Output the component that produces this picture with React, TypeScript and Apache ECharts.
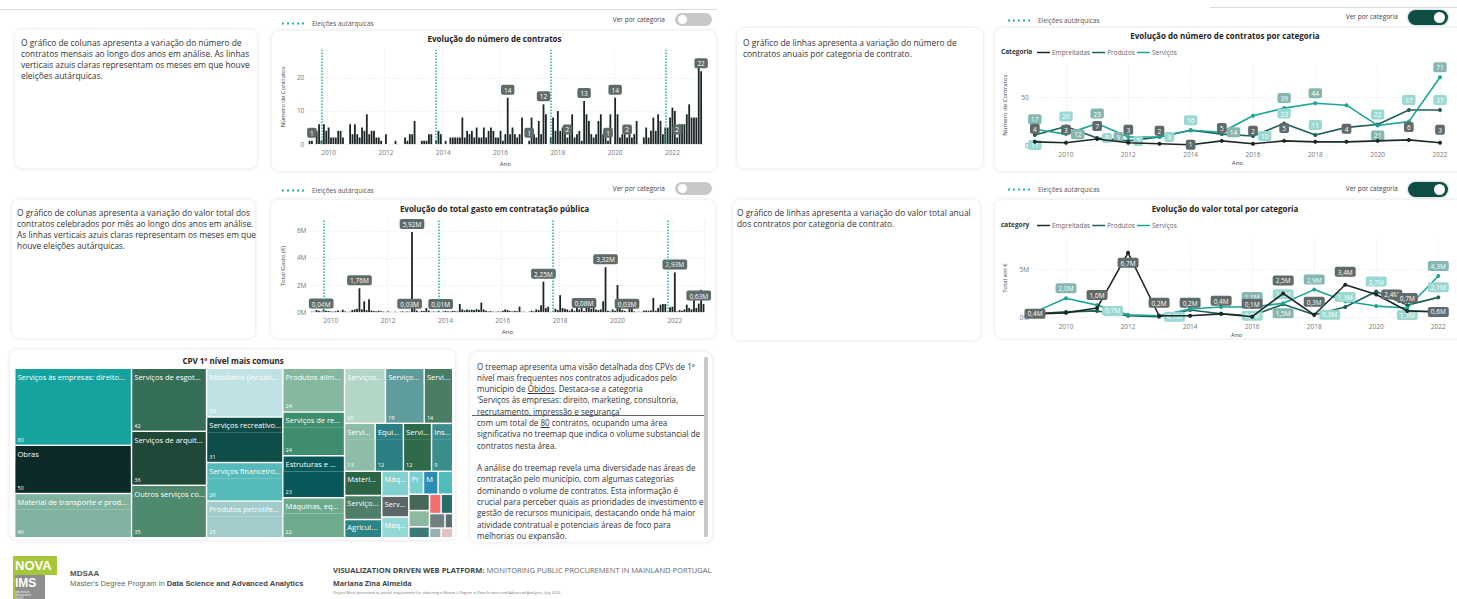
import React, { useEffect, useRef } from 'react';
import * as echarts from 'echarts';

const FONT = '"Open Sans", "Noto Sans", sans-serif';

// ---------------- DATA ----------------
// months shown on the monthly charts: 2009-05 .. 2023-01
const monthCategories: string[] = [];
for (let y = 2009; y <= 2023; y++) {
  for (let m = 1; m <= 12; m++) {
    if ((y === 2009 && m < 5) || (y === 2023 && m > 1)) continue;
    monthCategories.push(`${y}-${m < 10 ? '0' + m : m}`);
  }
}

// number of contracts per month
const monthlyContracts = [
  1, 1, 0, 4, 6, 1, 6, 4, // 2009 May-Dec
  5, 2, 2, 2, 4, 4, 2, 0, 0, 6, 3, 6, // 2010
  3, 2, 5, 4, 9, 3, 4, 4, 2, 2, 1, 0, // 2011
  3, 0, 0, 0, 1, 0, 0, 0, 2, 1, 3, 3, // 2012
  7, 0, 0, 1, 1, 1, 3, 3, 0, 1, 4, 3, // 2013
  0, 1, 0, 2, 2, 2, 2, 2, 8, 2, 4, 3, // 2014
  4, 2, 5, 2, 2, 5, 2, 4, 5, 4, 2, 2, // 2015
  4, 1, 3, 14, 3, 5, 3, 2, 3, 8, 0, 0, // 2016
  1, 8, 3, 2, 7, 3, 12, 9, 0, 2, 8, 4, // 2017
  10, 4, 5, 4, 2, 3, 9, 2, 3, 4, 1, 13, // 2018
  9, 7, 3, 2, 3, 7, 9, 3, 2, 1, 9, 0, // 2019
  14, 9, 2, 3, 5, 2, 3, 2, 3, 7, 0, 0, // 2020
  2, 5, 2, 4, 8, 4, 9, 7, 3, 5, 5, 8, // 2021
  11, 10, 2, 6, 6, 6, 9, 12, 8, 8, 8, 24, // 2022
  22, // 2023 Jan
];
const contractLabelMonths = ['2009-06', '2016-04', '2017-01', '2017-07', '2018-05', '2018-12', '2019-10', '2020-01', '2020-06', '2022-03', '2023-01'];

// total spent per month (M€)
const monthlySpendM = [
  0.03, 0.02, 0.15, 0.1, 0.04, 0.2, 0.1, 0.08, // 2009 May-Dec
  0.05, 0.03, 0.06, 0.12, 0.03, 0.18, 0.05, 0.02, 0.03, 0.15, 0.2, 0.25, // 2010
  1.76, 0.2, 0.8, 0.15, 0.95, 0.12, 0.08, 0.05, 0.1, 0.06, 0.04, 0.02, // 2011
  0.05, 0.02, 0.01, 0.03, 0.01, 0.02, 0.05, 0.02, 0.04, 0.03, 5.92, 0.35, // 2012
  0.12, 0.02, 0.1, 0.08, 0.3, 0.12, 0.02, 0.04, 0.03, 0.06, 0.01, 0.05, // 2013
  0.08, 0.05, 0.04, 0.1, 0.06, 0.05, 0.6, 0.2, 0.12, 0.2, 0.15, 0.18, // 2014
  0.15, 0.22, 0.18, 0.7, 0.2, 0.1, 0.05, 0.06, 0.03, 0.02, 0.04, 0.03, // 2015
  0.1, 0.2, 0.15, 0.08, 0.05, 0.1, 0.06, 0.4, 0.02, 0.03, 0.01, 0.02, // 2016
  0.1, 0.05, 0.2, 0.15, 0.5, 2.25, 0.3, 0.4, 0.02, 0.03, 0.25, 0.15, // 2017
  1.25, 0.3, 0.25, 0.2, 0.1, 0.25, 0.1, 0.3, 0.2, 0.9, 0.08, 0.6, // 2018
  0.3, 0.25, 0.3, 0.2, 0.15, 0.2, 0.8, 3.32, 0.1, 0.05, 0.2, 0.1, // 2019
  2.0, 0.3, 0.15, 0.1, 0.03, 0.6, 0.7, 0.05, 0.02, 0.03, 0.02, 0.1, // 2020
  0.12, 0.1, 0.12, 1.05, 0.1, 0.3, 0.55, 0.6, 0.6, 0.05, 0.35, 0.4, // 2021
  2.93, 0.05, 0.15, 0.1, 0.2, 0.55, 0.3, 0.2, 1.2, 0.3, 0.63, 1.65, // 2022
  0.6, // 2023 Jan
];
const spendLabelMonths = ['2009-09', '2011-01', '2012-10', '2012-11', '2013-11', '2017-06', '2018-11', '2019-08', '2020-05', '2022-01', '2022-11'];

const electionMonths = ['2009-10', '2013-10', '2017-10', '2021-10'];

// yearly by category
const years = ['2009', '2010', '2011', '2012', '2013', '2014', '2015', '2016', '2017', '2018', '2019', '2020', '2021', '2022'];
const categoryNames = ['Empreitadas', 'Produtos', 'Serviços'];
const countEmpreitadas = [4, 3, 7, 3, 2, 1, 5, 2, 5, 4, 4, 5, 6, 3];
const countProdutos = [11, 20, 8, 5, 9, 16, 12, 10, 23, 11, 19, 22, 37, 37];
const countServicos = [17, 12, 23, 9, 9, 16, 14, 31, 39, 44, 42, 21, 25, 71];

const valueEmpreitadasM = [0.4, 0.5, 1.0, 6.7, 0.2, 0.2, 0.4, 0.1, 2.5, 0.3, 3.4, 2.4, 0.7, 0.6];
const valueProdutosM = [0.4, 0.6, 0.7, 0.2, 0.1, 0.8, 0.4, 0.2, 1.4, 0.3, 1.1, 2.7, 1.3, 2.1];
const valueServicosM = [0.6, 2.0, 1.3, 0.3, 0.2, 0.9, 1.1, 1.1, 1.5, 2.9, 1.7, 1.2, 1.0, 4.3];

// treemap: CPV level-1 categories (ties listed in reverse of their on-screen order)
const cpvNames = [
  'Serviços às empresas: direito, marketing, consultoria, recrutamento, impressão e segurança',
  'Obras',
  'Material de transporte e produtos auxiliares de transporte',
  'Serviços de esgotos, de recolha de resíduos, de limpeza e ambientais',
  'Serviços de arquitectura, construção, engenharia e inspecção',
  'Outros serviços comunitários, sociais e pessoais',
  'Mobiliário (incluindo mobiliário de escritório), acessórios e produtos de limpeza',
  'Serviços recreativos, culturais e desportivos',
  'Serviços financeiros e de seguros',
  'Produtos petrolíferos, combustíveis, electricidade e outras fontes de energia',
  'Serviços de reparação e manutenção',
  'Produtos alimentares, bebidas, tabaco e produtos afins',
  'Estruturas e materiais de construção',
  'Máquinas, equipamento e material de escritório e informático',
  'Serviços de tecnologias da informação',
  'Serviços de saúde e de assistência social',
  'Serviços de transporte',
  'Serviços de ensino e formação',
  'Serviços de hotelaria, restauração e comércio a retalho',
  'Equipamento de segurança, de combate a incêndios, policial e de defesa',
  'Instrumentos musicais, artigos desportivos, jogos e brinquedos',
  'Serviços de instalação',
  'Materiais de laboratório, ópticos e de precisão',
  'Máquinas, aparelhos e consumíveis eléctricos',
  'Agricultura, pesca e silvicultura',
  'Máquinas industriais',
  'Serviços imobiliários',
  'Pacotes de software',
  'Equipamento de rádio e televisão',
  'Serviços de correios e telecomunicações',
  'Material médico e medicamentos',
  'Produtos químicos',
  'Vestuário e calçado',
  'Serviços agrícolas',
  'Couros e têxteis',
  'Equipamento de laboratório',
  'Serviços de extracção',
  'Materiais de impressão',
  'Produtos de borracha',
];
const cpvCounts = [80, 50, 46, 42, 36, 35, 33, 31, 26, 25, 24, 24, 23, 22, 20, 19, 14, 13, 12, 12, 9, 8, 8, 6, 6, 5, 5, 3, 3, 3, 3, 3, 2, 2, 2, 2, 1, 1, 1];
const cpvColors = [
  '#14a39e', '#0c2a29', '#7fb39f', '#356e56', '#1f4838', '#4f8a6e', '#bfe3e4', '#0f4d49', '#56baba', '#a2cbcb',
  '#3e8e6e', '#86b79f', '#09595a', '#6eaa8c', '#b3d6c6', '#5e9c9e', '#4b7d64', '#8dbda8', '#2f6a4a', '#2a7f83',
  '#3c8d8d', '#4e7f69', '#2c6446', '#83d0d0', '#2b8587', '#93d7d7', '#5b6766', '#8db9a2', '#456858', '#4fbcbc',
  '#2a8db5', '#7ad0d0', '#6f7f80', '#2b6d6d', '#f07070', '#3b7a78', '#e0c0c0', '#9ab0b0', '#5a7070',
];
const cpvShowName = 21; // categories before this index are drawn with name + value
const cpvNamedSmall = [21, 22, 23, 24, 25, 26, 30, 31];

// which yearly points carry a data label, and where it sits (style config)
const countLabelPlacement: Record<string, Record<string, string>> = {
  Empreitadas: { 2009: 'top', 2010: 'top', 2011: 'top', 2012: 'top', 2013: 'top', 2014: 'inside', 2015: 'top', 2016: 'top', 2017: 'top', 2019: 'top', 2021: 'top', 2022: 'top' },
  Produtos: { 2009: 'bottom', 2010: 'top', 2011: 'right', 2012: 'right', 2013: 'right', 2014: 'top', 2016: 'right', 2017: 'top', 2018: 'top', 2020: 'top', 2021: 'top', 2022: 'top' },
  Serviços: { 2009: 'top', 2010: 'right', 2011: 'top', 2012: 'left', 2015: 'right', 2017: 'top', 2018: 'top', 2020: 'bottom', 2022: 'top' },
};
const valueLabelPlacement: Record<string, Record<string, string>> = {
  Empreitadas: { 2009: 'inside', 2011: 'top', 2012: 'bottom', 2013: 'top', 2014: 'top', 2015: 'top', 2016: 'top', 2017: 'top', 2018: 'top', 2019: 'top', 2020: 'right', 2021: 'top', 2022: 'inside' },
  Produtos: { 2011: 'right', 2013: 'right', 2016: 'inside', 2017: 'top', 2018: 'right', 2019: 'top', 2020: 'top', 2021: 'bottom', 2022: 'top' },
  Serviços: { 2010: 'top', 2016: 'top', 2017: 'bottom', 2018: 'top', 2022: 'top' },
};

// ---------------- HELPERS ----------------
const TEAL_ELECTION = '#22b2a6';
const DOTS_ICON = 'path://M0 0h2v2H0zM5 0h2v2H5zM10 0h2v2h-2zM15 0h2v2h-2zM20 0h2v2h-2z';
const COL_EMP = '#1c2727';
const COL_PROD = '#1e5f57';
const COL_SERV = '#1aa598';
const LAB_EMP = '#5f6a6a';
const LAB_PROD = '#9bd8d1';
const LAB_SERV = '#86b6b0';

const badge = (bg: string, fontSize = 6.5) => ({
  show: true,
  backgroundColor: bg,
  color: '#fff',
  borderRadius: 2,
  padding: [2, 3, 1, 3],
  fontSize,
  fontFamily: FONT,
});

const evenJanuary = (_: number, v: string) => v.endsWith('-01') && Number(v.slice(0, 4)) % 2 === 0;
const evenYear = (_: number, v: string) => Number(v) % 2 === 0;
const fmtM = (v: number, d: number) => v.toFixed(d).replace('.', ',') + 'M';

const axisLabelStyle = { fontSize: 6.5, color: '#777', fontFamily: FONT };
const axisNameStyle = { fontSize: 6, color: '#444', fontFamily: FONT };
const gridColor = '#e6e6e6';

function electionLegend(left: number, top: number) {
  return {
    data: [{ name: 'Eleições autárquicas', icon: DOTS_ICON }],
    left,
    top,
    padding: 0,
    itemWidth: 22,
    itemHeight: 2,
    itemGap: 6,
    selectedMode: false,
    textStyle: { fontSize: 6.5, color: '#555', fontFamily: FONT, padding: [0, 0, 0, 3] },
  };
}

const electionSeries = {
  name: 'Eleições autárquicas',
  type: 'line',
  data: [],
  itemStyle: { color: TEAL_ELECTION },
  lineStyle: { color: TEAL_ELECTION },
};

function titleOf(text: string, top: number) {
  return {
    text,
    left: 'center',
    top,
    padding: 0,
    textStyle: { fontSize: 8, fontWeight: 'bold', color: '#252423', fontFamily: FONT },
  };
}

function monthlyBarOption(opts: {
  title: string;
  values: number[];
  labelMonths: string[];
  labelFmt: (v: number) => string;
  grid: any;
  yMax: number;
  yInterval: number;
  yFmt: (v: number) => string;
  yName: string;
  splitColors: string[];
  titleTop: number;
  legendTop: number;
}) {
  return {
    animation: false,
    textStyle: { fontFamily: FONT },
    title: titleOf(opts.title, opts.titleTop),
    legend: electionLegend(10, opts.legendTop),
    grid: opts.grid,
    xAxis: {
      type: 'category',
      data: monthCategories,
      axisLine: { show: false },
      axisTick: { show: false },
      axisLabel: { ...axisLabelStyle, interval: evenJanuary, formatter: (v: string) => v.slice(0, 4), margin: 5 },
      splitLine: { show: true, interval: evenJanuary, lineStyle: { type: [1, 2], color: gridColor } },
      name: 'Ano',
      nameLocation: 'middle',
      nameGap: 14,
      nameTextStyle: axisNameStyle,
    },
    yAxis: {
      type: 'value',
      min: 0,
      max: opts.yMax,
      interval: opts.yInterval,
      axisLabel: { ...axisLabelStyle, showMaxLabel: false, formatter: opts.yFmt, margin: 4 },
      splitLine: { lineStyle: { type: [1, 2], color: opts.splitColors } },
      name: opts.yName,
      nameLocation: 'middle',
      nameGap: 19,
      nameTextStyle: axisNameStyle,
    },
    series: [
      {
        type: 'bar',
        barWidth: 1.8,
        itemStyle: { color: '#1d2626' },
        data: opts.values.map((v, i) =>
          opts.labelMonths.includes(monthCategories[i])
            ? { value: v, label: { ...badge('#5f6b6b'), position: 'top', distance: 3, formatter: () => opts.labelFmt(v) } }
            : v
        ),
        markLine: {
          silent: true,
          symbol: ['none', 'none'],
          label: { show: false },
          lineStyle: { type: [1.5, 1.5], color: TEAL_ELECTION, width: 1.5 },
          data: electionMonths.map((m) => ({ xAxis: m })),
        },
      },
      electionSeries,
    ],
  };
}

function categoryLineOption(opts: {
  title: string;
  legendWord: string;
  emp: number[];
  prod: number[];
  serv: number[];
  placement: Record<string, Record<string, string>>;
  fmt: (v: number) => string;
  grid: any;
  yMax: number;
  yInterval: number;
  yFmt: (v: number) => string;
  yName: string;
  splitColors: string[];
  titleTop: number;
  legendTop: number;
  catLegendTop: number;
}) {
  const mk = (name: string, data: number[], color: string, lab: string) => {
    const place = opts.placement[name] || {};
    return {
      name,
      type: 'line',
      symbol: 'circle',
      symbolSize: 4,
      lineStyle: { color, width: 1.6 },
      itemStyle: { color },
      label: { ...badge(lab, 6.5), show: false, formatter: (p: any) => opts.fmt(p.value) },
      data: data.map((v, i) => {
        const pos = place[years[i]];
        if (!pos) return { value: v, label: { show: false } };
        const dist = pos === 'inside' ? 0 : name === 'Empreitadas' && pos === 'top' ? 6 : 3;
        return { value: v, label: { show: true, position: pos, distance: dist } };
      }),
      z: name === 'Empreitadas' ? 4 : 3,
    };
  };
  return {
    animation: false,
    textStyle: { fontFamily: FONT },
    title: titleOf(opts.title, opts.titleTop),
    legend: [
      electionLegend(15, opts.legendTop),
      {
        data: categoryNames,
        left: 44,
        top: opts.catLegendTop,
        padding: 0,
        icon: 'rect',
        itemWidth: 13,
        itemHeight: 1.5,
        itemGap: 2,
        selectedMode: false,
        textStyle: { fontSize: 6.5, color: '#666', fontFamily: FONT, padding: [0, 0, 0, -3] },
      },
    ],
    graphic: [
      {
        type: 'text',
        left: 8,
        top: opts.catLegendTop - 1,
        style: { text: opts.legendWord, font: `bold 6.5px ${FONT}`, fill: '#333' },
      },
    ],
    grid: opts.grid,
    xAxis: {
      type: 'category',
      data: years,
      boundaryGap: false,
      axisLine: { show: false },
      axisTick: { show: false },
      axisLabel: { ...axisLabelStyle, interval: evenYear, margin: 5 },
      splitLine: { show: true, interval: evenYear, lineStyle: { type: [1, 2], color: gridColor } },
      name: 'Ano',
      nameLocation: 'middle',
      nameGap: 14,
      nameTextStyle: axisNameStyle,
    },
    yAxis: {
      type: 'value',
      min: 0,
      max: opts.yMax,
      interval: opts.yInterval,
      axisLabel: { ...axisLabelStyle, showMaxLabel: false, formatter: opts.yFmt, margin: 6 },
      splitLine: { lineStyle: { type: [1, 2], color: opts.splitColors } },
      name: opts.yName,
      nameLocation: 'middle',
      nameGap: 27,
      nameTextStyle: axisNameStyle,
    },
    series: [
      mk('Empreitadas', opts.emp, COL_EMP, LAB_EMP),
      mk('Produtos', opts.prod, COL_PROD, LAB_PROD),
      mk('Serviços', opts.serv, COL_SERV, LAB_SERV),
      electionSeries,
    ],
  };
}

function treemapOption() {
  const data = cpvNames.map((name, i) => {
    const v = cpvCounts[i];
    const color = cpvColors[i];
    if (i < cpvShowName) {
      return {
        name,
        itemStyle: { color, borderColor: color },
        children: [{ name, value: v, itemStyle: { color } }],
      };
    }
    return {
      name,
      value: v,
      itemStyle: { color },
      label: { show: cpvNamedSmall.includes(i) },
    };
  });
  return {
    animation: false,
    textStyle: { fontFamily: FONT },
    title: {
      text: 'CPV 1º nível mais comuns',
      left: 'center',
      top: 6,
      padding: 0,
      textStyle: { fontSize: 8, fontWeight: 'bold', color: '#252423', fontFamily: FONT },
    },
    series: [
      {
        type: 'treemap',
        left: 5.5,
        top: 19,
        right: 4,
        bottom: 3,
        roam: false,
        nodeClick: false,
        breadcrumb: { show: false },
        sort: 'desc',
        visibleMin: 0,
        data,
        levels: [
          { itemStyle: { borderWidth: 0, gapWidth: 1.5, borderColor: '#fff' } },
          {
            itemStyle: { borderWidth: 0, gapWidth: 0 },
            upperLabel: {
              show: true,
              height: 15,
              color: '#fff',
              fontSize: 7.5,
              fontFamily: FONT,
              padding: [0, 0, 0, 2],
              overflow: 'truncate',
              ellipsis: '...',
            },
            label: {
              show: true,
              position: 'insideTopLeft',
              formatter: '{b}',
              color: '#fff',
              fontSize: 7.5,
              fontFamily: FONT,
              padding: [3, 0, 0, 2],
              overflow: 'truncate',
              ellipsis: '...',
            },
          },
          {
            itemStyle: { borderWidth: 0, gapWidth: 0 },
            label: {
              show: true,
              position: 'insideBottomLeft',
              formatter: '{c}',
              color: '#fff',
              fontSize: 5.5,
              fontFamily: FONT,
              padding: [0, 0, 2, 2],
            },
          },
        ],
      },
    ],
  };
}

// ---------------- COMPONENTS ----------------
function Chart({ option, style }: { option: any; style: React.CSSProperties }) {
  const ref = useRef<HTMLDivElement>(null);
  useEffect(() => {
    const chart = echarts.init(ref.current!, undefined, { renderer: 'svg' });
    chart.setOption(option);
    return () => chart.dispose();
  }, []);
  return <div ref={ref} style={{ position: 'absolute', ...style }} />;
}

const cardStyle: React.CSSProperties = {
  position: 'absolute',
  background: '#fff',
  borderRadius: 7,
  boxShadow: '0 0 4px rgba(0,0,0,0.13)',
};

function Card(props: { l: number; t: number; w: number; h: number }) {
  return <div style={{ ...cardStyle, left: props.l, top: props.t, width: props.w, height: props.h }} />;
}

function TextCard(props: { l: number; t: number; w: number; h: number; tx: number; ty: number; lines: string[] }) {
  return (
    <div style={{ ...cardStyle, left: props.l, top: props.t, width: props.w, height: props.h }}>
      <div
        style={{
          position: 'absolute',
          left: props.tx,
          top: props.ty,
          fontSize: 8.4,
          lineHeight: '10.9px',
          color: '#333',
          whiteSpace: 'nowrap',
          fontFamily: FONT,
        }}
      >
        {props.lines.map((l, i) => (
          <div key={i}>{l}</div>
        ))}
      </div>
    </div>
  );
}

function Toggle(props: { l: number; t: number; on: boolean; labelRight: number; labelY: number }) {
  const w = props.on ? 40 : 37;
  const h = props.on ? 15 : 13;
  return (
    <>
      <div
        style={{
          position: 'absolute',
          left: props.labelRight - 80,
          width: 80,
          top: props.labelY - 5,
          height: 10,
          lineHeight: '10px',
          textAlign: 'right',
          fontSize: 6.5,
          color: '#444',
          fontFamily: FONT,
          whiteSpace: 'nowrap',
        }}
      >
        Ver por categoria
      </div>
      <div
        style={{
          position: 'absolute',
          left: props.l,
          top: props.t,
          width: w,
          height: h,
          borderRadius: h / 2,
          background: props.on ? '#0f4e47' : '#c8c8c8',
          boxShadow: props.on ? '0 0 0 1.5px #dde8e7' : 'none',
        }}
      >
        <div
          style={{
            position: 'absolute',
            top: 2,
            left: props.on ? w - (h - 4) - 3 : 3,
            width: h - 4,
            height: h - 4,
            borderRadius: '50%',
            background: '#fff',
          }}
        />
      </div>
    </>
  );
}

const text1 = [
  'O gráfico de colunas apresenta a variação do número de',
  'contratos mensais ao longo dos anos em análise. As linhas',
  'verticais azuis claras representam os meses em que houve',
  'eleições autárquicas.',
];
const text2 = [
  'O gráfico de colunas apresenta a variação do valor total dos',
  'contratos celebrados por mês ao longo dos anos em análise.',
  'As linhas verticais azuis claras representam os meses em que',
  'houve eleições autárquicas.',
];
const text3 = ['O gráfico de linhas apresenta a variação do número de', 'contratos anuais por categoria de contrato.'];
const text4 = ['O gráfico de linhas apresenta a variação do valor total anual', 'dos contratos por categoria de contrato.'];

export default function App() {
  const opt1 = monthlyBarOption({
    title: 'Evolução do número de contratos',
    values: monthlyContracts,
    labelMonths: contractLabelMonths,
    labelFmt: (v) => String(v),
    grid: { left: 27.3, right: 14.7, top: 39.7, bottom: 26.3 },
    yMax: 28.5,
    yInterval: 10,
    yFmt: (v) => String(v),
    yName: 'Número de Contratos',
    splitColors: [gridColor, gridColor, gridColor, 'rgba(0,0,0,0)'],
    titleTop: 24.5,
    legendTop: 10,
  });
  const opt2 = monthlyBarOption({
    title: 'Evolução do total gasto em contratação pública',
    values: monthlySpendM,
    labelMonths: spendLabelMonths,
    labelFmt: (v) => fmtM(v, 2),
    grid: { left: 28.9, right: 12.3, top: 40, bottom: 24.3 },
    yMax: 6.8,
    yInterval: 2,
    yFmt: (v) => v + 'M',
    yName: 'Total Gasto (€)',
    splitColors: [gridColor, gridColor, gridColor, gridColor, 'rgba(0,0,0,0)'],
    titleTop: 24,
    legendTop: 7,
  });
  const opt3 = categoryLineOption({
    title: 'Evolução do número de contratos por categoria',
    legendWord: 'Categoria',
    emp: countEmpreitadas,
    prod: countProdutos,
    serv: countServicos,
    placement: countLabelPlacement,
    fmt: (v) => String(v),
    grid: { left: 41.8, right: 17, top: 58.7, bottom: 26.3 },
    yMax: 84,
    yInterval: 50,
    yFmt: (v) => String(v),
    yName: 'Número de Contratos',
    splitColors: [gridColor, gridColor, 'rgba(0,0,0,0)'],
    titleTop: 25.5,
    legendTop: 11,
    catLegendTop: 43,
  });
  const opt4 = categoryLineOption({
    title: 'Evolução do valor total por categoria',
    legendWord: 'category',
    emp: valueEmpreitadasM,
    prod: valueProdutosM,
    serv: valueServicosM,
    placement: valueLabelPlacement,
    fmt: (v) => fmtM(v, 1),
    grid: { left: 42, right: 18.7, top: 58.3, bottom: 22.3 },
    yMax: 8.2,
    yInterval: 5,
    yFmt: (v) => v + 'M',
    yName: 'Total em €',
    splitColors: [gridColor, gridColor, 'rgba(0,0,0,0)'],
    titleTop: 24.5,
    legendTop: 6,
    catLegendTop: 42,
  });
  const opt5 = treemapOption();

  return (
    <div
      style={{
        position: 'fixed',
        left: 0,
        top: 0,
        width: 1457,
        height: 599,
        overflow: 'hidden',
        background: '#fff',
        fontFamily: FONT,
      }}
    >
      {/* top edges */}
      <div style={{ position: 'absolute', left: 0, top: 9, width: 717, height: 1, background: '#d9d9d9' }} />
      <div style={{ position: 'absolute', left: 1210, top: 7, width: 247, height: 1, background: '#d9d9d9' }} />

      <TextCard l={15} t={30} w={242} h={138} tx={6} ty={8} lines={text1} />
      <TextCard l={12} t={200} w={243} h={138} tx={5} ty={8} lines={text2} />
      <TextCard l={737} t={28} w={246} h={140} tx={6} ty={10} lines={text3} />
      <TextCard l={733} t={200} w={247} h={140} tx={4} ty={8} lines={text4} />

      <Card l={272} t={31} w={444} h={140} />
      <Card l={271} t={200} w={444} h={138} />
      <Card l={995} t={28} w={470} h={143} />
      <Card l={995} t={200} w={470} h={138} />
      <Card l={10} t={350} w={445} h={190} />

      <Toggle l={675} t={13} on={false} labelRight={665} labelY={19.7} />
      <Toggle l={675} t={182} on={false} labelRight={665} labelY={189.3} />
      <Toggle l={1408} t={10} on={true} labelRight={1398} labelY={17.3} />
      <Toggle l={1408} t={182} on={true} labelRight={1398} labelY={189.3} />

      <Chart option={opt1} style={{ left: 272, top: 10, width: 445, height: 162 }} />
      <Chart option={opt2} style={{ left: 272, top: 180, width: 445, height: 160 }} />
      <Chart option={opt3} style={{ left: 993, top: 6, width: 464, height: 166 }} />
      <Chart option={opt4} style={{ left: 993, top: 180, width: 464, height: 160 }} />
      <Chart option={opt5} style={{ left: 10, top: 350, width: 446, height: 190 }} />

      {/* treemap description */}
      <div style={{ ...cardStyle, left: 470, top: 352, width: 242, height: 190, overflow: 'hidden' }}>
        <div
          style={{
            position: 'absolute',
            left: 7,
            top: 8.5,
            fontSize: 8.05,
            lineHeight: '11.3px',
            color: '#333',
            whiteSpace: 'nowrap',
            fontFamily: FONT,
          }}
        >
          <div>O treemap apresenta uma visão detalhada dos CPVs de 1º</div>
          <div>nível mais frequentes nos contratos adjudicados pelo</div>
          <div>
            município de <span style={{ textDecoration: 'underline' }}>Óbidos</span>. Destaca-se a categoria
          </div>
          <div>'Serviços às empresas: direito, marketing, consultoria,</div>
          <div>recrutamento, impressão e segurança'</div>
          <div>
            com um total de <span style={{ textDecoration: 'underline' }}>80</span> contratos, ocupando uma área
          </div>
          <div>significativa no treemap que indica o volume substancial de</div>
          <div>contratos nesta área.</div>
          <div>&nbsp;</div>
          <div>A análise do treemap revela uma diversidade nas áreas de</div>
          <div>contratação pelo município, com algumas categorias</div>
          <div>dominando o volume de contratos. Esta informação é</div>
          <div>crucial para perceber quais as prioridades de investimento e</div>
          <div>gestão de recursos municipais, destacando onde há maior</div>
          <div>atividade contratual e potenciais áreas de foco para</div>
          <div>melhorias ou expansão.</div>
        </div>
        <div style={{ position: 'absolute', left: 2, top: 63, width: 233, height: 1, background: '#666' }} />
        <div style={{ position: 'absolute', left: 234, top: 5, width: 4, height: 180, background: '#c9c9c9', borderRadius: 1 }} />
      </div>

      {/* footer */}
      <div style={{ position: 'absolute', left: 13, top: 556, width: 44, height: 19, background: '#a5c63b' }}>
        <div style={{ color: '#fff', fontWeight: 'bold', fontSize: 13, lineHeight: '19px', paddingLeft: 2, fontFamily: '"Liberation Sans", Arial, sans-serif' }}>NOVA</div>
      </div>
      <div style={{ position: 'absolute', left: 13, top: 575, width: 32, height: 24, background: '#8e8e8e' }}>
        <div style={{ color: '#fff', fontWeight: 'bold', fontSize: 12, lineHeight: '16px', paddingLeft: 2, fontFamily: '"Liberation Sans", Arial, sans-serif' }}>IMS</div>
        <div style={{ color: '#fff', fontSize: 2.6, lineHeight: '2.8px', paddingLeft: 2, fontFamily: FONT }}>
          Information
          <br />
          Management
          <br />
          School
        </div>
      </div>
      <div style={{ position: 'absolute', left: 13, top: 575, width: 1.5, height: 24, background: '#a5c63b' }} />
      <div style={{ position: 'absolute', left: 70, top: 569, fontSize: 8, fontWeight: 'bold', color: '#555', fontFamily: '"Liberation Sans", Arial, sans-serif' }}>MDSAA</div>
      <div style={{ position: 'absolute', left: 70, top: 579, fontSize: 7.6, color: '#666', whiteSpace: 'nowrap', fontFamily: '"Liberation Sans", Arial, sans-serif' }}>
        Master's Degree Program in <b style={{ color: '#444' }}>Data Science and Advanced Analytics</b>
      </div>
      <div style={{ position: 'absolute', left: 333, top: 565, fontSize: 7.55, color: '#666', whiteSpace: 'nowrap', fontFamily: FONT }}>
        <b style={{ color: '#444' }}>VISUALIZATION DRIVEN WEB PLATFORM:</b> MONITORING PUBLIC PROCUREMENT IN MAINLAND PORTUGAL
      </div>
      <div style={{ position: 'absolute', left: 333, top: 578, fontSize: 7.2, fontWeight: 'bold', color: '#444', whiteSpace: 'nowrap', fontFamily: FONT }}>
        Mariana Zina Almeida
      </div>
      <div style={{ position: 'absolute', left: 333, top: 590, fontSize: 3.8, color: '#777', whiteSpace: 'nowrap', fontFamily: FONT }}>
        Project Work presented as partial requirement for obtaining a Master's Degree in Data Science and Advanced Analytics, July 2024
      </div>
    </div>
  );
}
